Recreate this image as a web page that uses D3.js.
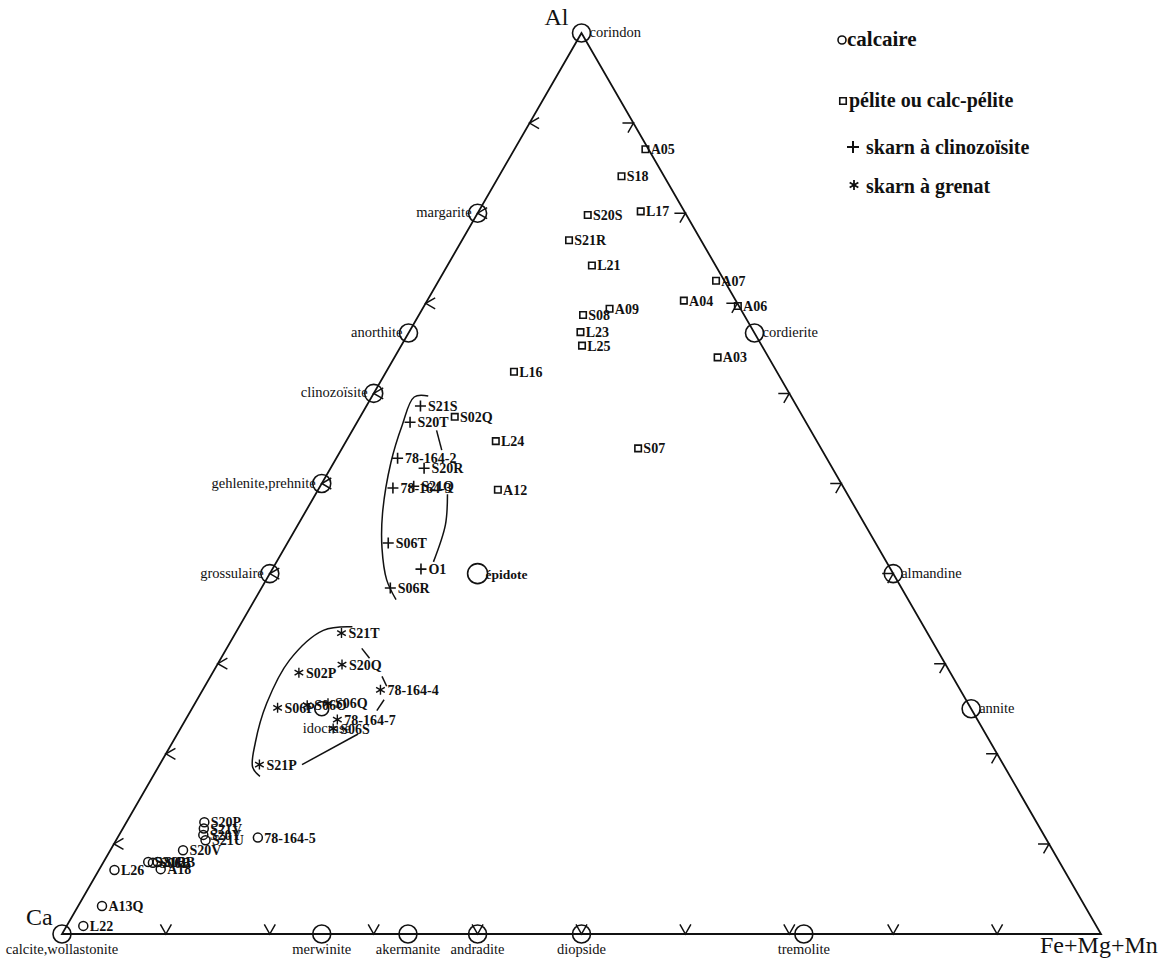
<!DOCTYPE html>
<html><head><meta charset="utf-8">
<script src="https://cdn.jsdelivr.net/npm/d3@7/dist/d3.min.js"></script>
<style>body{margin:0;background:#fff}svg text{font-family:"Liberation Serif","Times New Roman",serif;fill:#111}</style>
</head><body>
<svg id="chart" width="1169" height="961"></svg>
<script>
// ---------- DATA (percentages: Al, Ca, Fe+Mg+Mn) ----------
const vertexLabels = ["Al", "Ca", "Fe+Mg+Mn"];
const tickFractions = [0.1, 0.2, 0.3, 0.4, 0.5, 0.6, 0.7, 0.8, 0.9];

const mineralNames = ["corindon","margarite","anorthite","clinozoïsite","gehlenite,prehnite","grossulaire","épidote","cordierite","almandine","annite","calcite,wollastonite","merwinite","akermanite","andradite","diopside","tremolite","idocrase"];
const mineralAl  = [100, 80, 66.7, 60, 50, 40, 40, 66.7, 40, 25, 0, 0, 0, 0, 0, 0, 25];
const mineralCa  = [0, 20, 33.3, 40, 50, 60, 40, 0, 0, 0, 100, 75, 66.7, 60, 50, 28.6, 62.5];
const mineralFMM = [0, 0, 0, 0, 0, 0, 20, 33.3, 60, 75, 0, 25, 33.3, 40, 50, 71.4, 12.5];

const calcaireNames = ["L22","A13Q","L26","S21B","S06B","S02B","A18","S20V","S20P","S21V","S20Y","S21U","78-164-5"];
const calcaireAl  = [0.9, 3.1, 7.1, 8.0, 7.9, 8.0, 7.2, 9.3, 12.4, 11.7, 11.0, 10.4, 10.7];
const calcaireCa  = [97.5, 94.6, 91.4, 87.7, 87.3, 86.8, 86.9, 83.7, 80.1, 80.5, 80.9, 80.9, 75.8];
const calcaireFMM = [1.6, 2.3, 1.5, 4.3, 4.8, 5.2, 5.9, 7.0, 7.5, 7.8, 8.1, 8.6, 13.5];

const peliteNames = ["A05","S18","S20S","L17","S21R","L21","A07","A04","A06","A09","S08","L23","L25","A03","L16","S02Q","L24","A12","S07"];
const peliteAl  = [87.1, 84.1, 79.8, 80.2, 77.0, 74.2, 72.5, 70.3, 69.7, 69.4, 68.7, 66.8, 65.3, 64.0, 62.4, 57.4, 54.7, 49.3, 53.9];
const peliteCa  = [0.3, 4.1, 9.5, 4.2, 12.7, 11.9, 0.8, 5.0, 0.1, 12.6, 15.5, 16.7, 17.3, 4.9, 25.3, 33.5, 30.9, 33.4, 17.6];
const peliteFMM = [12.6, 11.8, 10.7, 15.6, 10.3, 13.9, 26.7, 24.7, 30.2, 18.0, 15.8, 16.5, 17.4, 31.1, 12.3, 9.1, 14.4, 17.3, 28.5];

const clinoNames = ["S21S","S20T","78-164-2","S20R","78-164-3","S21Q","S06T","O1","S06R"];
const clinoAl  = [58.6, 56.8, 52.8, 51.7, 49.5, 49.7, 43.4, 40.5, 38.4];
const clinoCa  = [36.2, 38.1, 41.3, 39.3, 43.4, 41.3, 46.9, 45.2, 49.2];
const clinoFMM = [5.2, 5.1, 5.9, 9.0, 7.1, 9.0, 9.7, 14.3, 12.4];

const grenatNames = ["S21T","S20Q","S02P","78-164-4","S06P","S06O","S06Q","78-164-7","S06S","S21P"];
const grenatAl  = [33.4, 29.9, 29.0, 27.1, 25.1, 25.4, 25.6, 23.8, 22.8, 18.8];
const grenatCa  = [56.4, 58.1, 62.7, 55.8, 66.7, 63.7, 61.6, 61.6, 62.5, 71.6];
const grenatFMM = [10.2, 12.0, 8.3, 17.1, 8.2, 10.9, 12.8, 14.6, 14.7, 9.6];

// hand-drawn field outlines, [Al%, FMM%]
const clinoOutlineMain = [[59.7,5.4],[59.6,4.1],[56.5,4.5],[52.3,5.5],[46.7,7.5],[42.8,9.4],[39.3,11.6],[37.1,13.6]];
const clinoOutlineRight1 = [[55.9,8.1],[53.7,9.7]];
const clinoOutlineRight2 = [[48.8,12.7],[45.4,14.2],[41.3,15.1]];
const grenatOutlineMain = [[34.1,10.9],[33.7,8.3],[30.4,6.7],[25.6,6.9],[21.2,8.0],[18.5,9.1],[17.5,10.3]];
const grenatOutlineLow = [[18.8,13.7],[22.2,17.4]];
const grenatOutlineDash1 = [[31.7,13.0],[30.6,14.3]];
const grenatOutlineDash2 = [[28.6,16.5],[27.5,17.5]];
const grenatOutlineDash3 = [[26.0,18.0],[24.8,17.9]];

const legendLabels = ["calcaire", "pélite ou calc-pélite", "skarn à clinozoïsite", "skarn à grenat"];

// ---------- DRAWING ----------
const svg = d3.select("#chart");
const sx = d3.scaleLinear().domain([0, 1]).range([62, 1101]);
const sy = d3.scaleLinear().domain([0, 1]).range([934, 33]);
function proj(al, ca, f) {
  const s = al + ca + f, a = al / s, fm = f / s;
  return [sx(fm + a / 2), sy(a)];
}
const projAF = d => proj(d[0], 100 - d[0] - d[1], d[1]);

const ink = "#111";
// triangle
const vAl = proj(1,0,0), vCa = proj(0,1,0), vF = proj(0,0,1);
svg.append("path").attr("d", d3.line()([vAl, vCa, vF]) + "Z")
  .attr("fill","none").attr("stroke",ink).attr("stroke-width",1.8).attr("stroke-linejoin","miter");

// ticks
const L = 11, c30 = Math.cos(Math.PI/6), s30 = 0.5;
const tg = svg.append("g").attr("stroke", ink).attr("stroke-width", 1.5).attr("fill","none");
tickFractions.forEach(t => {
  let p = proj(t, 1 - t, 0);
  tg.append("path").attr("d", `M${p[0]+L*c30},${p[1]-L*s30}L${p[0]},${p[1]}L${p[0]+L*c30},${p[1]+L*s30}`);
  p = proj(t, 0, 1 - t);
  tg.append("path").attr("d", `M${p[0]-L},${p[1]}L${p[0]},${p[1]}L${p[0]-L*0.5},${p[1]+L*c30}`);
  p = proj(0, 1 - t, t);
  tg.append("path").attr("d", `M${p[0]-L*0.5},${p[1]-L*c30}L${p[0]},${p[1]}L${p[0]+L*0.5},${p[1]-L*c30}`);
});

// vertex labels
svg.append("text").attr("x", vAl[0] - 37).attr("y", vAl[1] - 8).attr("font-size", 24).text(vertexLabels[0]);
svg.append("text").attr("x", vCa[0] - 36).attr("y", vCa[1] - 9).attr("font-size", 24).text(vertexLabels[1]);
svg.append("text").attr("x", vF[0] - 61).attr("y", vF[1] + 19).attr("font-size", 24).text(vertexLabels[2]);

// minerals
const placement = {
  "corindon":"apex","margarite":"left","anorthite":"left","clinozoïsite":"left","gehlenite,prehnite":"left","grossulaire":"left",
  "épidote":"epi","cordierite":"right","almandine":"right","annite":"right","calcite,wollastonite":"below","merwinite":"below",
  "akermanite":"below","andradite":"below","diopside":"below","tremolite":"below","idocrase":"under"
};
const minerals = mineralNames.map((n,i) => ({name:n, p: proj(mineralAl[i], mineralCa[i], mineralFMM[i])}));
const mg = svg.append("g");
minerals.forEach(m => {
  const r = m.name === "épidote" ? 10 : (m.name === "idocrase" ? 7 : 9);
  mg.append("circle").attr("cx", m.p[0]).attr("cy", m.p[1]).attr("r", r)
    .attr("fill","none").attr("stroke", ink).attr("stroke-width", 1.6);
  const t = mg.append("text").attr("font-size", 14.5).text(m.name);
  const pl = placement[m.name];
  if (pl === "apex") t.attr("x", m.p[0] + 8).attr("y", m.p[1] + 4);
  else if (pl === "left") t.attr("x", m.p[0] - 6).attr("y", m.p[1] + 4).attr("text-anchor","end");
  else if (pl === "right") t.attr("x", m.p[0] + 8).attr("y", m.p[1] + 4);
  else if (pl === "below") t.attr("x", m.p[0]).attr("y", m.p[1] + 20).attr("text-anchor","middle");
  else if (pl === "epi") t.attr("x", m.p[0] + 8).attr("y", m.p[1] + 5).attr("font-weight","bold").attr("font-size", 13.5);
  else if (pl === "under") t.attr("x", m.p[0] - 19).attr("y", m.p[1] + 24);
});

// symbol types
const symPlus = { draw(ctx, size) { const r = Math.sqrt(size) / 2;
  ctx.moveTo(-r, 0); ctx.lineTo(r, 0); ctx.moveTo(0, -r); ctx.lineTo(0, r); } };
const symStar = { draw(ctx, size) { const r = Math.sqrt(size) / 2;
  for (let k = 0; k < 3; k++) { const a = Math.PI / 2 + k * Math.PI / 3;
    ctx.moveTo(-r * Math.cos(a), -r * Math.sin(a)); ctx.lineTo(r * Math.cos(a), r * Math.sin(a)); } } };
const symCircle = { draw(ctx, size) { const r = Math.sqrt(size) / 2; ctx.moveTo(r, 0); ctx.arc(0, 0, r, 0, 2 * Math.PI); } };
const symSquare = { draw(ctx, size) { const r = Math.sqrt(size) / 2; ctx.rect(-r, -r, 2 * r, 2 * r); } };

function drawSeries(names, al, ca, fm, sym, size, sw) {
  const g = svg.append("g");
  const pts = names.map((n, i) => ({ name: n, p: proj(al[i], ca[i], fm[i]) }));
  g.selectAll("path").data(pts).join("path")
    .attr("transform", d => `translate(${d.p[0]},${d.p[1]})`)
    .attr("d", d3.symbol().type(sym).size(size))
    .attr("fill", "none").attr("stroke", ink).attr("stroke-width", sw);
  g.selectAll("text").data(pts).join("text")
    .attr("x", d => d.p[0] + Math.sqrt(size) / 2 + 2).attr("y", d => d.p[1] + 5)
    .attr("font-size", 14).attr("font-weight", "bold").text(d => d.name);
}
drawSeries(calcaireNames, calcaireAl, calcaireCa, calcaireFMM, symCircle, 81, 1.5);
drawSeries(peliteNames, peliteAl, peliteCa, peliteFMM, symSquare, 42, 1.6);
drawSeries(clinoNames, clinoAl, clinoCa, clinoFMM, symPlus, 121, 1.6);
drawSeries(grenatNames, grenatAl, grenatCa, grenatFMM, symStar, 100, 1.4);

// outlines
const curve = d3.line().curve(d3.curveCatmullRom.alpha(0.5));
[clinoOutlineMain, clinoOutlineRight1, clinoOutlineRight2, grenatOutlineMain, grenatOutlineLow,
 grenatOutlineDash1, grenatOutlineDash2, grenatOutlineDash3].forEach(arr => {
  svg.append("path").attr("d", curve(arr.map(projAF)))
    .attr("fill","none").attr("stroke", ink).attr("stroke-width", 1.5);
});

// legend
const lg = svg.append("g").attr("font-weight","bold");
lg.append("path").attr("transform","translate(842,40)").attr("d", d3.symbol().type(symCircle).size(64)())
  .attr("fill","none").attr("stroke",ink).attr("stroke-width",1.6);
lg.append("text").attr("x", 847).attr("y", 46).attr("font-size", 21).text(legendLabels[0]);
lg.append("path").attr("transform","translate(843,101)").attr("d", d3.symbol().type(symSquare).size(42)())
  .attr("fill","none").attr("stroke",ink).attr("stroke-width",1.6);
lg.append("text").attr("x", 849).attr("y", 107).attr("font-size", 20).text(legendLabels[1]);
lg.append("path").attr("transform","translate(853,147)").attr("d", d3.symbol().type(symPlus).size(144)())
  .attr("fill","none").attr("stroke",ink).attr("stroke-width",2);
lg.append("text").attr("x", 866).attr("y", 154).attr("font-size", 20).text(legendLabels[2]);
lg.append("path").attr("transform","translate(854,185)").attr("d", d3.symbol().type(symStar).size(100)())
  .attr("fill","none").attr("stroke",ink).attr("stroke-width",1.8);
lg.append("text").attr("x", 866).attr("y", 193).attr("font-size", 20).text(legendLabels[3]);
</script>
</body></html>
